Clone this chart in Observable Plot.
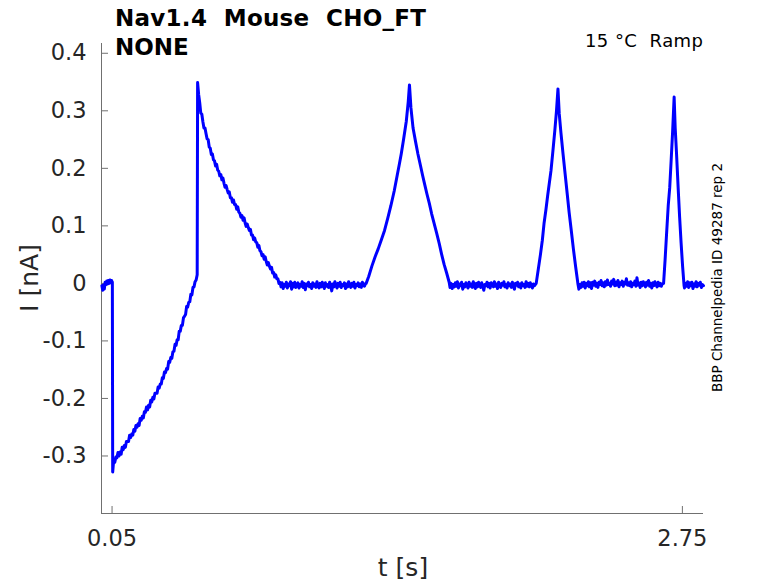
<!DOCTYPE html>
<html><head><meta charset="utf-8">
<script src="https://cdn.jsdelivr.net/npm/d3@7"></script>
<script src="https://cdn.jsdelivr.net/npm/@observablehq/plot@0.6"></script>
<style>
body{margin:0;background:#fff;}
#wrap{position:relative;width:778px;height:583px;font-family:"DejaVu Sans",sans-serif;}
#wrap svg{position:absolute;left:0;top:0;}
#wrap text{white-space:pre;}
</style></head><body><div id="wrap"></div>
<script>
// ---- data (t in s, I in nA) ----
// sampled segments: start time t0, sample step dt, current values (nA)
const holdSeg = {t0: 0.002, dt: 0.0038, v: [-0.004,-0.012,-0.003,-0.010,0.002,-0.002,0.004,-0.001,0.005,0.000,0.006,0.001,0.005,0.002]};
const negRamp = {t0: 0.053, dt: 0.005, v: [-0.328,-0.306,-0.311,-0.302,-0.303,-0.294,-0.300,-0.293,-0.297,-0.285,-0.289,-0.282,-0.285,-0.275,-0.275,-0.275,-0.264,-0.268,-0.262,-0.264,-0.254,-0.257,-0.247,-0.250,-0.244,-0.247,-0.235,-0.238,-0.231,-0.234,-0.223,-0.224,-0.215,-0.220,-0.212,-0.215,-0.203,-0.206,-0.198,-0.201,-0.191,-0.191,-0.191,-0.180,-0.182,-0.175,-0.175,-0.164,-0.165,-0.154,-0.155,-0.148,-0.149,-0.136,-0.137,-0.129,-0.130,-0.119,-0.118,-0.106,-0.108,-0.098,-0.098,-0.083,-0.083,-0.073,-0.073,-0.060,-0.057,-0.054,-0.040,-0.041,-0.033,-0.032,-0.019,-0.020,-0.007,-0.006,0.003,0.006,0.015]};
const decay1 = {t0: 0.455, dt: 0.005, v: [0.349,0.328,0.314,0.296,0.294,0.281,0.270,0.270,0.260,0.251,0.250,0.237,0.235,0.224,0.225,0.215,0.213,0.204,0.207,0.197,0.195,0.187,0.189,0.180,0.183,0.174,0.167,0.170,0.163,0.157,0.159,0.149,0.149,0.141,0.145,0.137,0.137,0.129,0.133,0.124,0.122,0.115,0.118,0.110,0.114,0.105,0.099,0.103,0.097,0.092,0.094,0.084,0.084,0.076,0.079,0.072,0.071,0.063,0.066,0.057,0.055,0.048,0.050,0.042,0.046,0.038,0.032,0.036,0.030,0.025,0.028,0.018,0.019,0.011,0.015,0.008,0.008,0.000,0.002]};
const base1 = {t0: 0.850, dt: 0.005, v: [-0.006,0.001,-0.009,-0.002,-0.005,0.002,-0.008,-0.001,-0.004,0.003,-0.010,0.000,-0.006,0.002,-0.007,-0.003,0.001,-0.008,-0.002,-0.005,0.003,-0.007,0.000,-0.011,-0.001,-0.004,0.002,-0.006,-0.002,-0.009,0.001,-0.005,-0.001,-0.007,0.003,-0.004,-0.008,0.000,-0.006,0.002,-0.003,-0.009,0.001,-0.005,-0.002,-0.007,0.002,-0.004,-0.013,-0.001,-0.006,0.003,-0.003,-0.008,0.000,-0.005,0.002,-0.007,-0.002,-0.004,0.001,-0.009,-0.001,-0.006,0.003,-0.003,-0.007,0.000,-0.005,0.002,-0.008,-0.002,-0.004,0.001,-0.006,-0.001,-0.007,0.002,-0.003,-0.005,0.000]};
const peak1 = [[1.253,0.000],[1.265,0.012],[1.280,0.030],[1.295,0.046],[1.310,0.060],[1.325,0.076],[1.340,0.092],[1.355,0.113],[1.370,0.135],[1.386,0.161],[1.400,0.188],[1.410,0.207],[1.419,0.225],[1.430,0.250],[1.443,0.282],[1.452,0.315],[1.458,0.345],[1.465,0.305],[1.475,0.270],[1.487,0.246],[1.498,0.225],[1.510,0.205],[1.520,0.188],[1.530,0.172],[1.541,0.155],[1.552,0.139],[1.563,0.121],[1.575,0.104],[1.587,0.087],[1.599,0.069],[1.610,0.051],[1.622,0.033],[1.634,0.018],[1.646,0.002]];
const base2 = {t0: 1.650, dt: 0.005, v: [-0.007,0.000,-0.009,-0.002,-0.006,0.001,-0.005,0.003,-0.008,-0.001,-0.004,0.002,-0.010,-0.002,-0.006,0.001,-0.003,-0.008,0.002,-0.005,-0.001,-0.007,0.003,-0.004,-0.009,0.000,-0.006,0.002,-0.003,-0.007,0.001,-0.005,-0.012,-0.002,-0.004,0.002,-0.006,0.000,-0.008,0.001,-0.003,-0.006,0.003,-0.005,-0.001,-0.009,0.002,-0.004,-0.007,0.000,-0.003,0.003,-0.006,-0.002,-0.008,0.001,-0.004,-0.001,-0.007,0.002,-0.005,-0.010,0.000,-0.003,0.002,-0.006,-0.001,-0.008,0.001,-0.004,-0.002,-0.007,0.003,-0.005,0.000,-0.006,0.001,-0.003,-0.008,-0.001,-0.004]};
const peak2 = [[2.058,0.000],[2.068,0.025],[2.078,0.050],[2.087,0.075],[2.095,0.104],[2.104,0.128],[2.112,0.152],[2.120,0.174],[2.128,0.196],[2.137,0.230],[2.146,0.265],[2.154,0.300],[2.161,0.338],[2.167,0.295],[2.175,0.262],[2.185,0.225],[2.195,0.190],[2.205,0.155],[2.214,0.123],[2.224,0.092],[2.234,0.060],[2.245,0.028],[2.256,-0.002]];
const base3 = {t0: 2.260, dt: 0.005, v: [-0.010,-0.002,-0.007,0.001,-0.005,0.002,-0.008,0.000,-0.004,0.003,-0.006,0.001,-0.009,0.002,-0.003,0.004,-0.005,0.000,-0.007,0.002,-0.002,0.005,-0.004,0.001,-0.006,0.003,-0.003,0.006,-0.002,0.000,-0.005,0.004,-0.001,0.007,-0.004,0.002,-0.003,0.005,-0.006,0.001,-0.002,0.004,-0.005,0.002,-0.001,0.008,-0.003,0.001,-0.004,0.003,-0.006,0.000,-0.002,0.004,-0.005,0.010,-0.003,0.001,-0.007,0.002,-0.004,0.003,-0.001,-0.006,0.002,-0.003,0.005,-0.005,0.000,-0.008,0.001,-0.004,0.003,-0.002,-0.006,0.002,-0.004,0.000,-0.005,-0.001]};
const peak3 = [[2.661,0.000],[2.668,0.040],[2.675,0.085],[2.683,0.135],[2.690,0.166],[2.697,0.215],[2.704,0.265],[2.711,0.324],[2.716,0.270],[2.722,0.228],[2.730,0.166],[2.737,0.115],[2.744,0.070],[2.751,0.030],[2.758,-0.004]];
const base4 = {t0: 2.760, dt: 0.005, v: [-0.008,0.000,-0.005,0.003,-0.007,0.001,-0.004,0.002,-0.009,-0.001,-0.005,0.003,-0.006,0.000,-0.003,0.002,-0.007,-0.002,-0.004]};

const xTicks = [0.05, 2.75];
const yTicks = [-0.3, -0.2, -0.1, 0, 0.1, 0.2, 0.3, 0.4];
const xDomain = [0, 2.85];
const yDomain = [-0.4, 0.417];
const titleLines = ["Nav1.4  Mouse  CHO_FT", "NONE"];
const condition = "15 °C  Ramp";
const sideNote = "BBP Channelpedia ID 49287 rep 2";
const xLabel = "t [s]";
const yLabel = "I [nA]";

const sampled = s => s.v.map((i, k) => [s.t0 + k * s.dt, i]);
const trace = [
  ...sampled(holdSeg), ...sampled(negRamp), ...sampled(decay1), ...sampled(base1),
  ...peak1, ...sampled(base2), ...peak2, ...sampled(base3), ...peak3, ...sampled(base4)
].map(([t, i]) => ({t, i}));

const W = 778, H = 583, mL = 101, mR = 75, mT = 43, mB = 70;
const fw = W - mL - mR, fh = H - mT - mB;
const txt = "#262626", axc = "#707070";

const chart = Plot.plot({
  width: W, height: H,
  marginLeft: mL, marginRight: mR, marginTop: mT, marginBottom: mB,
  style: {fontFamily: "DejaVu Sans", background: "white", overflow: "visible"},
  x: {domain: xDomain},
  y: {domain: yDomain},
  marks: [
    Plot.axisY({ticks: yTicks, tickSize: 0, tickPadding: 15, tickFormat: d => String(d), fontSize: 22.5, color: txt, label: null}),
    Plot.axisX({ticks: xTicks, tickSize: 0, tickPadding: 17, tickFormat: d => String(d), fontSize: 22.5, color: txt, label: null}),
    Plot.tickY(yTicks, {y: d => d, insetRight: fw - 7, stroke: axc, strokeWidth: 1}),
    Plot.tickX(xTicks, {x: d => d, insetTop: fh - 7, stroke: axc, strokeWidth: 1}),
    Plot.ruleX([xDomain[0]], {stroke: axc, strokeWidth: 1}),
    Plot.ruleY([yDomain[0]], {stroke: axc, strokeWidth: 1}),
    Plot.line(trace, {x: "t", y: "i", stroke: "#0000ff", strokeWidth: 3, strokeLinejoin: "round", curve: "linear"})
  ]
});
const wrap = document.getElementById("wrap");
wrap.appendChild(chart);

// overlay texts
const ns = "http://www.w3.org/2000/svg";
const ov = document.createElementNS(ns, "svg");
ov.setAttribute("width", W); ov.setAttribute("height", H);
ov.style.fontFamily = "DejaVu Sans";
function addText(s, x, y, opts) {
  const t = document.createElementNS(ns, "text");
  t.textContent = s;
  t.setAttributeNS("http://www.w3.org/XML/1998/namespace", "xml:space", "preserve");
  t.setAttribute("x", x); t.setAttribute("y", y);
  for (const k in opts) t.setAttribute(k, opts[k]);
  ov.appendChild(t);
}
addText(titleLines[0], 115, 26, {"font-size": 23, "font-weight": "bold", fill: "#000", textLength: 311, lengthAdjust: "spacing"});
addText(titleLines[1], 115, 55, {"font-size": 23, "font-weight": "bold", fill: "#000"});
addText(condition, 585, 47, {"font-size": 18, fill: "#000", textLength: 118, lengthAdjust: "spacing"});
addText(sideNote, 0, 0, {"font-size": 13.5, "text-anchor": "middle", fill: "#000", transform: "translate(722,277.5) rotate(-90)"});
addText(xLabel, 403, 576, {"font-size": 25, "text-anchor": "middle", fill: txt});
addText(yLabel, 0, 0, {"font-size": 25, "text-anchor": "middle", fill: txt, transform: "translate(38,278) rotate(-90)"});
wrap.appendChild(ov);
</script></body></html>
